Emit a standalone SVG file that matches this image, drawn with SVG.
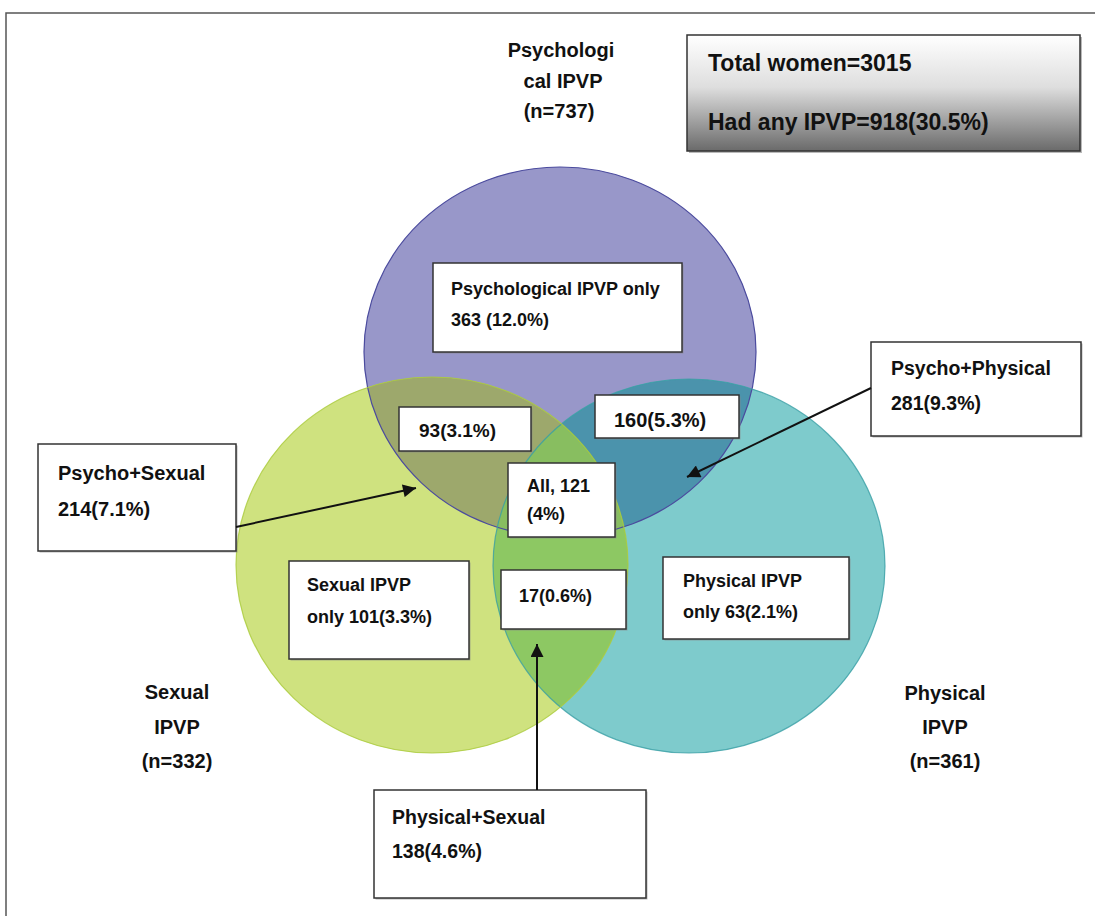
<svg xmlns="http://www.w3.org/2000/svg" width="1095" height="916" viewBox="0 0 1095 916">
<style>
text{font-family:"Liberation Sans",Arial,sans-serif;font-weight:bold;fill:#111;}
.box{fill:#fff;stroke:#333;stroke-width:1.5;}
.shd{fill:#8a8a8a;opacity:0.6;}
.conn{stroke:#111;stroke-width:2;fill:none;marker-end:url(#ah);}
.t18{font-size:18px;}
.t20{font-size:20px;}
.lbl{font-size:20px;text-anchor:middle;}
</style>
<defs>
<ellipse id="eP" cx="560" cy="352" rx="196" ry="185"/>
<ellipse id="eG" cx="432" cy="565" rx="196" ry="188"/>
<ellipse id="eT" cx="689" cy="566" rx="196" ry="187"/>
<clipPath id="cP"><use href="#eP"/></clipPath>
<clipPath id="cT"><use href="#eT"/></clipPath>
<linearGradient id="gbox" x1="0" y1="0" x2="0" y2="1">
<stop offset="0" stop-color="#ffffff"/>
<stop offset="0.45" stop-color="#dedede"/>
<stop offset="1" stop-color="#6a6a6a"/>
</linearGradient>
<marker id="ah" viewBox="0 0 10 10" refX="10" refY="5" markerUnits="userSpaceOnUse" markerWidth="17" markerHeight="13" orient="auto">
<path d="M0,0 L10,5 L0,10 z" fill="#111"/>
</marker>
</defs>
<rect width="1095" height="916" fill="#fff"/>
<path d="M6,916 V13 H1095" fill="none" stroke="#555" stroke-width="1.5"/>

<g id="venn">
<use href="#eP" fill="#9897C9"/>
<use href="#eT" fill="#7ECBCC"/>
<use href="#eG" fill="#CFE27F"/>
<use href="#eG" fill="#9DA86C" clip-path="url(#cP)"/>
<use href="#eT" fill="#4B93AC" clip-path="url(#cP)"/>
<use href="#eG" fill="#8DC863" clip-path="url(#cT)"/>
<g clip-path="url(#cP)"><use href="#eG" fill="#88BE60" clip-path="url(#cT)"/></g>
<use href="#eP" fill="none" stroke="#4B4B9E" stroke-width="1.2"/>
<use href="#eT" fill="none" stroke="#3A9FA5" stroke-width="1.2" stroke-opacity="0.8"/>
<use href="#eG" fill="none" stroke="#AACB3C" stroke-width="1.2" stroke-opacity="0.8"/>
</g>

<g id="total">
<rect class="shd" x="689" y="37" width="393" height="116"/>
<rect x="687" y="35" width="393" height="116" fill="url(#gbox)" stroke="#333" stroke-width="1.5"/>
<text x="708" y="71" font-size="23">Total women=3015</text>
<text x="708" y="130" font-size="23">Had any IPVP=918(30.5%)</text>
</g>

<g id="label-psych">
<text class="lbl" x="561" y="57">Psychologi</text>
<text class="lbl" x="563" y="88">cal IPVP</text>
<text class="lbl" x="559" y="118">(n=737)</text>
</g>
<g id="label-sexual">
<text class="lbl" x="177" y="699">Sexual</text>
<text class="lbl" x="177" y="734">IPVP</text>
<text class="lbl" x="177" y="768">(n=332)</text>
</g>
<g id="label-physical">
<text class="lbl" x="945" y="700">Physical</text>
<text class="lbl" x="945" y="734">IPVP</text>
<text class="lbl" x="945" y="768">(n=361)</text>
</g>

<g id="psych-only">
<rect class="shd" x="434.5" y="264.5" width="249" height="89"/>
<rect class="box" x="433" y="263" width="249" height="89"/>
<text class="t18" x="451" y="295">Psychological IPVP only</text>
<text class="t18" x="451" y="326">363 (12.0%)</text>
</g>
<g id="ps93">
<rect class="shd" x="400.5" y="408.5" width="132" height="44"/>
<rect class="box" x="399" y="407" width="132" height="44"/>
<text x="419" y="437" font-size="19">93(3.1%)</text>
</g>
<g id="pp160">
<rect class="shd" x="596.5" y="396.5" width="144" height="43"/>
<rect class="box" x="595" y="395" width="144" height="43"/>
<text x="614" y="427" font-size="20">160(5.3%)</text>
</g>
<g id="all">
<rect class="shd" x="509.5" y="464.5" width="107" height="74"/>
<rect class="box" x="508" y="463" width="107" height="74"/>
<text class="t18" x="527" y="492">All, 121</text>
<text class="t18" x="527" y="520">(4%)</text>
</g>
<g id="sx17">
<rect class="shd" x="502.5" y="571.5" width="125" height="59"/>
<rect class="box" x="501" y="570" width="125" height="59"/>
<text class="t18" x="519" y="602">17(0.6%)</text>
</g>
<g id="sexual-only">
<rect class="shd" x="290.5" y="562.5" width="180" height="98"/>
<rect class="box" x="289" y="561" width="180" height="98"/>
<text class="t18" x="307" y="591">Sexual IPVP</text>
<text class="t18" x="307" y="623">only 101(3.3%)</text>
</g>
<g id="physical-only">
<rect class="shd" x="664.5" y="558.5" width="186" height="82"/>
<rect class="box" x="663" y="557" width="186" height="82"/>
<text class="t18" x="683" y="587">Physical IPVP</text>
<text class="t18" x="683" y="618">only 63(2.1%)</text>
</g>
<g id="psycho-sexual">
<rect class="shd" x="39.5" y="445.5" width="198" height="107"/>
<rect class="box" x="38" y="444" width="198" height="107"/>
<text class="t20" x="58" y="480">Psycho+Sexual</text>
<text class="t20" x="58" y="516">214(7.1%)</text>
</g>
<g id="psycho-physical">
<rect class="shd" x="872.5" y="343.5" width="210" height="94"/>
<rect class="box" x="871" y="342" width="210" height="94"/>
<text x="891" y="375" font-size="19.5">Psycho+Physical</text>
<text x="891" y="410" font-size="19.5">281(9.3%)</text>
</g>
<g id="physical-sexual">
<rect class="shd" x="375.5" y="791.5" width="272" height="108"/>
<rect class="box" x="374" y="790" width="272" height="108"/>
<text x="392" y="824" font-size="19.5">Physical+Sexual</text>
<text x="392" y="858" font-size="19.5">138(4.6%)</text>
</g>

<g id="connectors">
<line class="conn" x1="236" y1="527" x2="416" y2="488"/>
<line class="conn" x1="871" y1="388" x2="687" y2="477"/>
<line class="conn" x1="537" y1="790" x2="537" y2="644"/>
</g>
</svg>
